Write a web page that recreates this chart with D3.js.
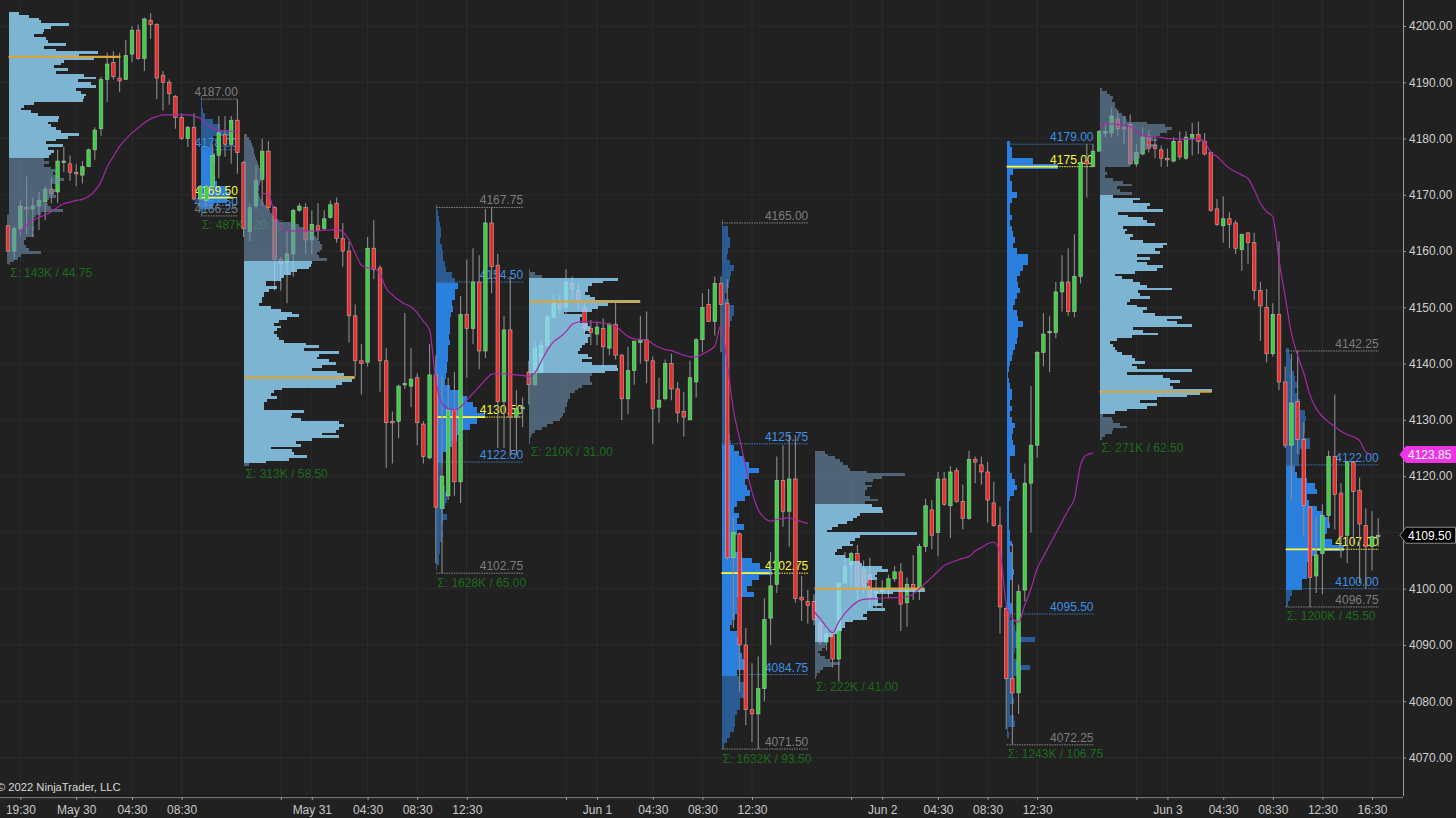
<!DOCTYPE html>
<html><head><meta charset="utf-8">
<script src="https://cdn.jsdelivr.net/npm/d3@7/dist/d3.min.js"></script>
<style>html,body{margin:0;padding:0;background:#212121;overflow:hidden}svg{display:block}text{font-family:"Liberation Sans",Arial,sans-serif}</style>
</head><body><svg id="c" width="1456" height="818"></svg>
<script>
// one row per 30-minute bar: open, high, low, close
const ohlc=[
[4164.5,4166.5,4157.75,4160],[4160,4164.5,4158.5,4164],[4164,4169,4162.75,4168],[4167.75,4173.25,4163,4167.5],[4167.5,4169.5,4162.5,4168],[4168,4170.5,4163.75,4169],[4168.75,4171.5,4165.5,4171],[4171,4173,4168.5,4170.25],[4170.5,4178,4168.5,4176],[4176,4178.5,4174,4176],
[4175.5,4177,4172.5,4174],[4174,4175.5,4171.5,4173.75],[4173.5,4176,4172,4175],[4175,4178.25,4175,4178],[4178,4182,4176.25,4181.5],[4181.75,4191,4180.5,4190.5],[4190.5,4195.25,4186.5,4193.25],[4193.5,4195.5,4190.5,4191],[4190.75,4195.25,4188.25,4190.25],[4190.5,4197.5,4190.5,4194.75],
[4195,4200,4193.5,4199.25],[4199.25,4200.25,4194,4194.25],[4194.25,4201.5,4192,4201.25],[4201,4202.25,4197.75,4200.25],[4200.25,4200.5,4187,4190.75],[4191.25,4192,4185,4190],[4190,4190.5,4186,4188],[4187.5,4187.75,4181.75,4183.75],[4183.75,4184.5,4179.75,4180],[4180,4182.25,4178.5,4182],
[4182,4184.5,4169,4169.25],[4169.25,4171.75,4167.5,4171.5],[4169,4172,4168,4171.5],[4171.5,4179,4171,4177],[4177,4184,4173,4181],[4180.75,4184,4176.75,4179],[4179,4184,4175.5,4183.25],[4183.25,4187,4173.75,4177.5],[4175.75,4176,4162.5,4164],[4163.5,4168.5,4161.75,4167.75],
[4168,4175.25,4167.5,4172.5],[4172.75,4180,4168,4177.75],[4177.75,4179.5,4167.25,4167.75],[4167.75,4168,4153,4158.5],[4158.5,4159,4153,4157.75],[4158,4163.75,4150.75,4159.5],[4159.5,4167.5,4155.5,4167.25],[4167.25,4168.5,4167,4168],[4167.75,4168.5,4159.5,4162],[4162,4167.25,4159.5,4164.75],
[4164.5,4168.5,4162,4163.75],[4164,4167.25,4163.75,4165.75],[4166,4169,4165.75,4168.25],[4168.5,4169.5,4161.5,4162.25],[4162.25,4165,4157.25,4160],[4160,4161.75,4143.75,4148.5],[4148.5,4150.5,4137.75,4140.5],[4140.5,4143.5,4134.5,4140],[4140.25,4162.5,4139.5,4160.5],[4160.5,4165.5,4155,4156.75],
[4157,4157.5,4135,4140.5],[4140.5,4142.75,4121.5,4129.5],[4129.75,4131.5,4122.25,4129.5],[4129.75,4136.25,4126.75,4136],[4136.25,4149,4135.5,4136.5],[4136,4142.75,4132.25,4137.25],[4137.5,4138.25,4125.5,4129.5],[4129.25,4129.75,4122.25,4123.5],[4123.25,4143.5,4123,4138],[4138,4141.5,4104.5,4114.5],
[4114.25,4137.75,4102.75,4120],[4116.5,4137.5,4115.75,4131.75],[4131.75,4138.5,4116.5,4119],[4119,4152,4115.25,4148.75],[4148.75,4158.5,4137.5,4146.25],[4146.25,4160.5,4143.5,4154.5],[4154.5,4159.25,4139,4142.25],[4142.25,4167.5,4141,4165],[4165,4167.75,4152.5,4157.25],[4157.5,4159.5,4125,4133.25],
[4133.25,4148.5,4125,4146],[4146,4155.5,4123.5,4130.5],[4130.5,4135.25,4123.75,4132],[4132,4134,4128.75,4132.25],[4138.5,4140.5,4132.75,4136.25],[4136.25,4144,4136,4142.75],[4138.5,4144,4138.25,4143.25],[4143.25,4148.75,4143,4148.25],[4148.25,4152.25,4148,4150.75],[4151,4152.25,4148.75,4149.75],
[4150,4156.75,4148.75,4154.5],[4154.25,4155.5,4151.5,4153.25],[4153,4154.25,4149.5,4151],[4150,4150.75,4145.5,4146.25],[4146.25,4147.75,4143.25,4145.5],[4145.25,4147.5,4143.25,4146.5],[4146.25,4148,4139.25,4143],[4142.75,4147.25,4141.5,4147],[4147,4151,4140.75,4141.5],[4141.5,4141.75,4130,4133.75],
[4133.75,4143,4131,4138.75],[4138.75,4144,4136.25,4144],[4143.75,4148.5,4140,4144.25],[4144.25,4149.25,4136.5,4140.5],[4140.5,4141.25,4125.75,4132],[4132.25,4137.5,4129.5,4133.5],[4133.75,4140.75,4133.5,4140],[4140,4141.75,4133.5,4135.5],[4135.5,4136.75,4129.5,4131.25],[4131.5,4135,4127,4130.5],
[4130,4140.5,4130,4137.5],[4136.75,4144.5,4134,4144.25],[4144.25,4152.5,4142,4150],[4150.5,4153.25,4147.5,4147.5],[4147.5,4155.5,4145,4154.25],[4154.25,4155.5,4142,4150.5],[4150.75,4155,4105,4105.5],[4105.5,4112.75,4093,4110],[4109.75,4110,4081.75,4090],[4090,4093,4075.75,4078.5],
[4078.5,4086.75,4072.75,4077.75],[4077.75,4088,4071.5,4082.25],[4082.25,4098.25,4080,4094.5],[4094.75,4106.5,4090,4100.5],[4100.75,4123.5,4099.25,4119.25],[4119.25,4125.5,4111,4113.75],[4113.75,4127.5,4107.5,4119.5],[4119.5,4127.25,4097.5,4098.25],[4098.5,4102.25,4094.25,4098],[4097.75,4099.75,4093.75,4097],
[4097.75,4099,4093.5,4094.5],[4093.75,4094.5,4090,4090.5],[4090.5,4093.25,4089,4092],[4092,4092.5,4086,4087.5],[4087.5,4101,4083.5,4101],[4101,4106.5,4101,4104],[4104.25,4106.5,4100.5,4106.25],[4106.25,4107.75,4097.75,4100.5],[4103.5,4105,4099,4100],[4102.5,4105.5,4096.5,4098.5],
[4099.5,4101.5,4096.5,4099.25],[4099.5,4101.5,4096.5,4099.75],[4100,4102.5,4098.25,4101.75],[4101.75,4104,4101.25,4103],[4103,4104.5,4092.5,4097.25],[4097.5,4102,4093.25,4100.75],[4100.75,4106,4098,4100],[4100,4108,4098,4107.5],[4107.5,4116,4106.5,4114.75],[4114,4115.75,4107,4109.5],
[4110,4120.75,4105.75,4119.5],[4119.5,4120.75,4114.75,4115],[4114.75,4121.75,4109,4120.75],[4121,4121.5,4115.25,4115.5],[4115.5,4118.5,4110.5,4112.5],[4112.5,4124.5,4112.25,4123],[4123,4123.5,4118.75,4122.5],[4122,4123.5,4118.5,4120.75],[4120.75,4122.5,4111.75,4115.75],[4115.25,4119,4111,4111.25],
[4111.25,4114.5,4092,4096.75],[4096.5,4097,4075,4084],[4084,4108,4072.25,4081.5],[4081.5,4100.75,4077.75,4099.5],[4099.75,4122.25,4097.75,4118.75],[4118.75,4136,4110,4125.5],[4125.5,4142.25,4123.25,4142],[4142,4149,4139.5,4145.25],[4145.5,4148.5,4138.5,4145.75],[4145.5,4154.5,4144.5,4152.75],
[4152.75,4159.25,4149.25,4154.5],[4154.5,4160.5,4148.5,4149.25],[4149.25,4163,4148.25,4155.5],[4155.5,4175.75,4154.25,4175.75],[4176,4179,4169.5,4175.5],[4175,4179,4175,4177.75],[4177.75,4181.5,4177.75,4181.25],[4181,4182.75,4180.25,4181.25],[4181,4185.5,4180.25,4184],[4183.5,4185,4180.5,4181.75],
[4182,4184,4179,4181.75],[4182.5,4184.25,4175.25,4175.5],[4175.5,4179,4175,4177.5],[4177.25,4182,4177,4180.25],[4180.5,4181.5,4177.5,4178.25],[4178.75,4180.5,4176.5,4178.25],[4178,4178.75,4175,4176.5],[4176.5,4178.25,4175,4176.25],[4176,4180.25,4175.75,4179.5],[4179.5,4181.25,4176.25,4176.75],
[4176.5,4181.25,4176.25,4180.25],[4180,4182.75,4177,4180.75],[4180.75,4183,4177.25,4179.5],[4179.5,4181,4177,4177.25],[4177.5,4177.75,4167,4167.25],[4167.5,4169.25,4164.5,4164.75],[4164.5,4169.75,4161.5,4165.75],[4165.75,4167,4160.5,4164.75],[4165,4165.5,4159.5,4160.5],[4160.25,4163,4156.5,4163],
[4163.25,4163.25,4157.75,4161.5],[4161.5,4163.25,4151.25,4153],[4153,4154.5,4144,4150.25],[4150,4153.25,4140.25,4141.75],[4141.75,4150.75,4141.25,4148.75],[4148.75,4161.75,4135.25,4136.75],[4136.75,4139.5,4125,4125.5],[4125.5,4141.75,4115.75,4133],[4133.25,4142.25,4124,4126.5],[4126.5,4129.5,4109.25,4114.75],
[4114.5,4114.75,4096.75,4102],[4102.25,4112.75,4099.25,4106],[4106.25,4115,4099,4113],[4113,4124.5,4110.75,4123.5],[4123.5,4134.5,4110.5,4116.75],[4117,4118.75,4105.5,4109.25],[4109.5,4122.75,4104.5,4122.5],[4122.5,4122.75,4107.5,4117.25],[4117.5,4119.75,4101,4111.5],[4111.25,4114.25,4100,4107.5],
[4107.5,4113.75,4103.25,4109.25],[4109.25,4112.5,4107.5,4109.5]];

// session average line, one value per bar from the given first bar
const avgStarts=[2,41,130,176];
const avgA=[4163.4,4164.6,4165.4,4166,4166.4,4167,4167.8,4168.4,4168.7,4169,4169.2,4169.7,4170.7,4172.3,4175,4176.8,4178.6,4179.9,4181,4181.9,4182.8,4183.5,4183.9,4184.2,4184.2,4184.2,4184.2,4184.2,4184,4183.6,4182.6,4181.9,4181.5,4181.4,4181.3,4181.2];
const avgB=[4170.3,4170,4166.7,4164.6,4163.6,4163.6,4163.6,4163.6,4163.6,4163.6,4163.7,4163.75,4163.9,4163.4,4162,4159.6,4157.5,4157,4156.9,4155.9,4153.4,4152.2,4151.3,4150.6,4150.1,4149,4147.5,4146,4137,4132.9,4132,4131.8,4132.3,4133.5,4134.7,4135.9,4137.1,4138.1,4138.2,4138.2,4138.1,4138,4137.9,4137.7,4138.4,4140.4,4142.4,4143.9,4144.7,4145.7,4147,4147.4,4147.5,4147.4,4147.3,4147.2,4147,4146.7,4145.7,4144.8,4144.4,4144.3,4144.2,4143.5,4142.9,4142.5,4142.3,4141.9,4141.5,4141.2,4141.2,4141.7,4142.3,4143.1,4146.9,4140,4131.8,4126.7,4121.6,4117.2,4114,4112.6,4112,4112.3,4112.5,4112.6,4112.2,4111.9,4111.6];
const avgC=[4095.9,4094.7,4093.2,4092.2,4094.1,4095.6,4096.8,4097.7,4098.1,4098.2,4098.2,4098.3,4098.4,4098.4,4098.4,4098.6,4099,4100,4101,4102,4103.1,4104.1,4104.6,4105,4105.4,4105.7,4106.7,4107.3,4108,4108.3,4106.4,4097.4,4094.7,4094.1,4097.1,4100,4103.6,4105.7,4107.8,4109.8,4111.9,4114,4116,4122,4123.8,4124.1];
const avgD=[4182.4,4182.5,4182.6,4182.5,4182.4,4182.1,4181.4,4180.6,4180.4,4180.3,4180.2,4180,4180,4179.9,4179.9,4179.9,4180,4179.4,4177.5,4176.8,4175.7,4174.7,4174.1,4173.5,4172.9,4170.9,4168.5,4167,4166.1,4158.4,4151.9,4145.4,4141.5,4138.3,4134.4,4132,4130.6,4129.6,4128.8,4128,4127.4,4127,4126.3,4124.3,4123.85];

// volume at price, from each profile's top price downward
const volA=[10,20,30,32,60,42,35,34,25,37,39,57,35,47,89,70,85,55,52,45,59,47,75,87,69,82,87,67,72,77,75,74,25,15,12,22,29,50,49,39,42,47,52,70,59,47,37,54,39,45,42,40,35,40,35,42,47,44,47,55,50,42,42,47,45,47,40,35,39,42,54,32,27,25,25,24,25,25,24,25,17,15,15,17,20,32,12,9,5,1];
const volB=[1,1,2,4,12,19,32,12,12,12,14,14,12,12,14,16,26,29,26,12,2];
const volC=[3,5,7,8,9,10,10,11,12,13,14,15,16,17,18,18,17,16,15,15,14,15,16,18,20,22,24,26,28,30,34,50,55,60,66,70,72,74,76,78,78,76,73,75,83,68,67,65,53,47,40,37,22,22,33,25,20,20,18,18,15,27,37,48,55,43,35,30,37,33,30,33,35,40,62,75,60,95,75,73,85,92,78,68,93,100,110,108,98,92,38,30,27,33,23,20,20,20,60,48,47,57,95,100,95,92,78,95,68,52,57,27,48,50,63,45,22,5];
const volD=[1,2,3,4,5,5,4,6,7,7,9,10,16,19,22,19,19,16,17,15,14,14,14,13,14,12,12,12,11,11,10,9,14,26,31,37,41,49,41,34,26,21,16,11,7,7,6,5,6,7,9,12,11,9,7,11,7,6,7,6,4,4,3,3,1];
const volE=[1,6,13,89,74,63,59,59,56,61,66,111,79,69,63,35,53,51,51,59,61,61,56,61,59,59,56,53,51,49,59,63,53,63,88,89,76,63,61,61,63,53,49,46,41,41,39,38,38,36,36,34,33,31,24,18,13,6,3,2,1,1];
const volF=[1,6,6,8,8,6,5,8,12,9,8,7,5,3,7,12,12,10,8,6,5,4,5,6,4,3,4,5,6,5,4,5,6,7,6,5,6,7,8,9,12,17,22,27,37,27,23,25,28,23,15,12,17,15,22,15,12,12,12,20,30,38,50,37,30,25,32,15,15,15,13,10,8,15,17,17,18,20,23,23,15,17,22,23,22,18,18,15,13,13,12,8,5,2];
const volG=[10,13,20,25,28,33,35,52,90,67,58,50,57,52,50,50,55,63,50,57,67,68,45,42,38,32,23,17,12,102,45,40,35,38,27,22,20,30,35,45,47,67,73,62,60,62,53,52,55,110,78,62,63,63,67,58,70,52,48,52,38,30,30,27,22,18,13,12,12,10,7,3,5,10,15,25,17,8,5,2,1];
const volH=[3,5,5,26,51,6,3,5,5,10,5,3,3,5,3,5,6,8,6,10,21,21,16,13,10,11,13,10,8,6,10,11,16,11,11,10,8,6,5,3,2,1,2,3,5,5,3,5,3,5,8,6,5,6,8,8,3,3,3,5,8,10,7,3,2,2,2,2,2,3,3,5,3,5,5,5,7,5,3,3,3,3,5,5,3,7,8,13,28,13,8,7,10,23,10,7,5,5,5,7,3,3,7,8,1,2];
const volI=[2,7,10,13,12,15,15,17,18,22,26,27,47,65,72,67,60,53,57,47,57,47,43,40,40,37,33,30,5,5,7,5,13,23,32,17,20,32,13,40,33,50,47,63,18,28,43,47,55,23,27,25,33,30,43,67,63,55,60,37,50,37,47,63,57,35,15,22,33,40,47,72,38,40,50,30,27,37,47,43,55,82,67,77,92,33,43,58,32,17,10,13,15,17,22,32,35,45,32,37,92,27,63,70,80,70,73,112,100,87,57,40,57,47,27,15,3,12,13,20,27,13,12,5,2];
const volJ=[3,4,6,6,8,9,11,9,11,14,14,19,20,19,19,18,24,24,14,13,13,9,11,21,29,31,21,23,31,36,43,44,41,39,46,58,31,26,21,21,21,16,16,6,4,2];

// the light (overnight) and blue (day) profiles
const overnight=[
 {vol:volA,first:0,top:4202.25,step:.5,vaHigh:4202.25,vaLow:4176.25,poc:4194.5,reach:112,sum:"Σ: 143K / 44.75"},
 {vol:volC,first:38,top:4180.5,step:.5,vaHigh:4158,vaLow:4122,poc:4137.5,reach:111,sum:"Σ: 313K / 58.50"},
 {vol:volE,first:84,top:4156.5,step:.5,vaHigh:4155.25,vaLow:4138.25,poc:4151,reach:111,sum:"Σ: 210K / 31.00"},
 {vol:volG,first:130,top:4124.25,step:.5,vaHigh:4115,vaLow:4090.25,poc:4100,reach:110,sum:"Σ: 222K / 41.00"},
 {vol:volI,first:176,top:4188.75,step:.5,vaHigh:4170,vaLow:4131,poc:4135,reach:112,sum:"Σ: 271K / 62.50"}];
const dayProfiles=[
 {vol:volB,first:31,last:37,top:4187,low:4166.25,vaHigh:4178,vaLow:4167.5,poc:4169.5,sum:"Σ: 487K / 20.75"},
 {vol:volD,first:69,last:83,top:4167.75,low:4102.75,vaHigh:4154.5,vaLow:4122.5,poc:4130.5,sum:"Σ: 1628K / 65.00"},
 {vol:volF,first:115,last:129,top:4165,low:4071.5,vaHigh:4125.75,vaLow:4084.75,poc:4102.75,sum:"Σ: 1632K / 93.50"},
 {vol:volH,first:161,last:175,top:4179,low:4072.25,vaHigh:4179,vaLow:4095.5,poc:4175,sum:"Σ: 1243K / 106.75"},
 {vol:volJ,first:206,last:221,top:4142.25,low:4096.75,vaHigh:4122,vaLow:4100,poc:4107,sum:"Σ: 1200K / 45.50"}];

const priceTicks=[4200,4190,4180,4170,4160,4150,4140,4130,4120,4110,4100,4090,4080,4070];
const timeTicks=[2,11,20,28,44,49,58,66,74,90,95,104,112,120,136,141,150,158,166,182,187,196,204,212,220];
const timeLabels=["19:30","May 30","04:30","08:30","","May 31","04:30","08:30","12:30","","Jun 1","04:30","08:30","12:30","","Jun 2","04:30","08:30","12:30","","Jun 3","04:30","08:30","12:30","16:30"];
const lastAvg=4123.85, lastPrice=4109.5;

const svg=d3.select("#c");
const W=1456,H=818;
const x=d3.scaleLinear().domain([0,220]).range([8,1372]);
const y=d3.scaleLinear().domain([4070,4200]).range([757.5,26]);
const volPx=d3.scaleLinear().domain([0,100]).range([0,100]);
const fmt=d3.format(".2f");
const GREY="#7d7d7d",BLUE="#3f90e6",YEL="#f7f73c",SUM="#1d6b1d";

svg.append("rect").attr("width",W).attr("height",H).attr("fill","#212121");
// grid
const grid=svg.append("g").attr("stroke","#2b2b2b").attr("stroke-width",1);
grid.selectAll("line.h").data(priceTicks).join("line").attr("x1",0).attr("x2",1403).attr("y1",d=>y(d)).attr("y2",d=>y(d));
grid.selectAll("line.v").data(timeTicks).join("line").attr("y1",0).attr("y2",796).attr("x1",d=>x(d)).attr("x2",d=>x(d));

function levels(p,step){return p.vol.map((v,k)=>({v,price:p.top-k*step}));}
function bars(g,ls,x0,step,color){
  g.selectAll("rect").data(ls).join("rect").attr("shape-rendering","crispEdges")
   .attr("x",x0).attr("width",d=>volPx(d.v))
   .attr("y",d=>y(d.price+step/2)).attr("height",d=>y(d.price-step/2)-y(d.price+step/2)).attr("fill",color);
}
// day profiles sit under the candles
const dayLayer=svg.append("g");
dayProfiles.forEach(p=>{
  const x0=x(p.first)+.5, x1=x(p.last)+.5, ls=levels(p,1);
  const va=l=>l.price<=p.vaHigh&&l.price>p.vaLow;
  bars(dayLayer.append("g"),ls.filter(l=>!va(l)),x0,1,"#2a5b92");
  bars(dayLayer.append("g"),ls.filter(va),x0,1,"#2a7fdf");
  const marks=[[p.top,GREY],[p.low,GREY],[p.vaHigh,BLUE],[p.vaLow,BLUE],[p.poc,YEL]];
  marks.forEach(([v,col])=>{
    if(col===GREY&&v===p.vaHigh)return;
    dayLayer.append("line").attr("x1",x0).attr("x2",x1).attr("y1",y(v)).attr("y2",y(v))
      .attr("stroke",col==GREY?"#8a8a8a":col==BLUE?"#3a78b8":YEL).attr("stroke-width",1).attr("stroke-dasharray","1.5,1");
    dayLayer.append("text").attr("x",x1).attr("y",y(v)-3).attr("text-anchor","end").attr("font-size",12).attr("fill",col).text(fmt(v));
  });
  dayLayer.append("line").attr("x1",x0).attr("x2",x0+volPx(d3.max(p.vol))).attr("y1",y(p.poc)).attr("y2",y(p.poc)).attr("stroke",YEL).attr("stroke-width",1.8);
  dayLayer.append("text").attr("x",x0+1).attr("y",y(p.low)+13.5).attr("font-size",12).attr("fill",SUM).text(p.sum);
});
// candles
const cg=svg.append("g");
const cand=cg.selectAll("g").data(ohlc).join("g");
cand.append("line").attr("x1",(d,i)=>x(i)).attr("x2",(d,i)=>x(i)).attr("y1",d=>y(d[1])).attr("y2",d=>y(d[2])).attr("stroke","#8c8c8c").attr("stroke-width",1.1);
cand.append("rect").attr("x",(d,i)=>x(i)-1.8).attr("width",3.6)
  .attr("y",d=>y(Math.max(d[0],d[3]))).attr("height",d=>Math.max(1.6,Math.abs(y(d[0])-y(d[3]))))
  .attr("fill",d=>d[3]>=d[0]?"#3ccf45":"#ee2b2b").attr("stroke","#c9cfc4").attr("stroke-opacity",.7).attr("stroke-width",.7);
// overnight profiles lie over the candles, translucent
overnight.forEach(p=>{
  const x0=x(p.first)+.5, ls=levels(p,p.step);
  const va=l=>l.price<=p.vaHigh&&l.price>p.vaLow;
  bars(svg.append("g").attr("opacity",.6),ls.filter(l=>!va(l)),x0,p.step,"rgb(111,144,177)");
  bars(svg.append("g").attr("opacity",.8),ls.filter(va),x0,p.step,"rgb(148,217,255)");
  svg.append("line").attr("x1",x0).attr("x2",x0+volPx(p.reach)).attr("y1",y(p.poc)).attr("y2",y(p.poc)).attr("stroke","#d8a53f").attr("stroke-width",2.2);
  svg.append("text").attr("x",x0+1.5).attr("y",y(p.top-(p.vol.length-1)*p.step)+13.5).attr("font-size",12).attr("fill",SUM).text(p.sum);
});
// session average
const line=d3.line().x(d=>x(d.i)).y(d=>y(d.v)).curve(d3.curveMonotoneX);
[avgA,avgB,avgC,avgD].forEach((a,k)=>{
  svg.append("path").attr("d",line(a.map((v,j)=>({i:avgStarts[k]+j,v})))).attr("fill","none").attr("stroke","#a62aa6").attr("stroke-width",1.2);
});
// axes
const right=svg.append("g").attr("transform","translate(1403,0)").call(d3.axisRight(y).tickValues(priceTicks).tickFormat(fmt).tickSize(3).tickPadding(3));
right.select(".domain").attr("stroke","#9a9a9a").attr("d","M0.5,0V796");
right.selectAll(".tick line").attr("stroke","#9a9a9a");
right.selectAll(".tick text").attr("font-size",12).attr("fill","#cfcfcf").attr("font-family","Liberation Sans");
svg.append("rect").attr("x",0).attr("y",795.5).attr("width",1403).attr("height",1.2).attr("fill","#0c0c0c");
const bottom=svg.append("g").attr("transform","translate(0,797)").call(d3.axisBottom(x).tickValues(timeTicks).tickFormat(d=>timeLabels[timeTicks.indexOf(d)]).tickSize(3).tickPadding(5));
bottom.select(".domain").attr("stroke","#6b6b6b").attr("stroke-width",1.6).attr("d","M0,0.5H1403");
bottom.selectAll(".tick line").attr("stroke","#9a9a9a");
bottom.selectAll(".tick text").attr("font-size",12).attr("fill","#c8c8c8").attr("font-family","Liberation Sans");
svg.append("text").attr("x",-3).attr("y",791).attr("font-size",11.2).attr("fill","#d8d8d8").text("© 2022 NinjaTrader, LLC");
// price tags
function tag(v,fill,stroke,txt){
  const c=y(v),g=svg.append("g");
  g.append("path").attr("d",`M1400,${c}L1406,${c-8}H1455.5V${c+8}H1406Z`).attr("fill",fill).attr("stroke",stroke).attr("stroke-width",1);
  g.append("text").attr("x",1408).attr("y",c+4.3).attr("font-size",12).attr("fill",txt).text(fmt(v));
}
tag(lastAvg,"#ee34e6","#ee34e6","#fff");
tag(lastPrice,"#000","#8c8c8c","#fff");
</script></body></html>
